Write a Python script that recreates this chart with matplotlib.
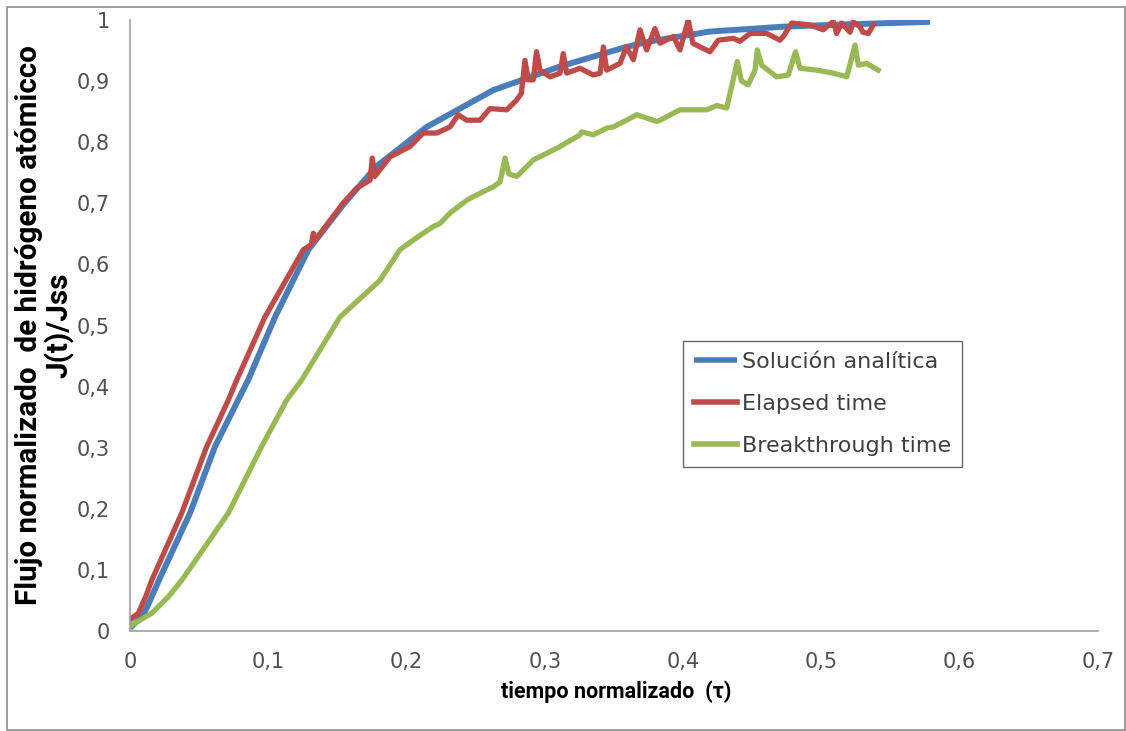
import matplotlib
matplotlib.use("Agg")
import matplotlib.pyplot as plt
from matplotlib.patches import Rectangle

# Solución analítica
tau_a = [0.0, 0.0096, 0.0145, 0.0205, 0.0434, 0.0615, 0.0795, 0.0855, 0.1049, 0.129,
         0.155, 0.178, 0.2146, 0.2625, 0.311, 0.359, 0.376, 0.419, 0.472, 0.52, 0.5785]
j_a = [0.005, 0.026, 0.05, 0.081, 0.193, 0.302, 0.384, 0.411, 0.514, 0.624,
       0.700, 0.760, 0.825, 0.885, 0.924, 0.956, 0.965, 0.981, 0.989, 0.993, 0.997]

# Elapsed time
tau_e = [0.0, 0.006, 0.0113, 0.0157, 0.0374, 0.0555, 0.0711, 0.0772, 0.0976, 0.1253,
         0.131, 0.1326, 0.134, 0.154, 0.164, 0.1736, 0.1752, 0.177, 0.188, 0.2025,
         0.212, 0.2218, 0.2314, 0.2374, 0.2434, 0.2531, 0.2603, 0.2724, 0.2796, 0.283,
         0.2856, 0.288, 0.2916, 0.294, 0.2965, 0.3037, 0.311, 0.3133, 0.3158, 0.3254,
         0.335, 0.34, 0.3423, 0.3447, 0.3543, 0.359, 0.364, 0.3688, 0.3736, 0.3796,
         0.3833, 0.393, 0.3977, 0.4037, 0.407, 0.4122, 0.4194, 0.4254, 0.4363, 0.441,
         0.4483, 0.4556, 0.4604, 0.47, 0.4724, 0.4785, 0.4917, 0.5013, 0.5086, 0.511,
         0.5146, 0.5207, 0.523, 0.5279, 0.53, 0.5339, 0.5375]
j_e = [0.019, 0.029, 0.056, 0.083, 0.193, 0.302, 0.378, 0.411, 0.514, 0.624,
       0.632, 0.651, 0.640, 0.700, 0.725, 0.738, 0.774, 0.744, 0.776, 0.793,
       0.815, 0.815, 0.825, 0.845, 0.836, 0.836, 0.855, 0.853, 0.869, 0.880,
       0.934, 0.902, 0.902, 0.948, 0.918, 0.907, 0.913, 0.945, 0.913, 0.921,
       0.910, 0.913, 0.956, 0.918, 0.929, 0.956, 0.935, 0.984, 0.951, 0.986,
       0.962, 0.973, 0.951, 1.000, 0.962, 0.956, 0.948, 0.967, 0.970, 0.965,
       0.978, 0.978, 0.978, 0.967, 0.973, 0.995, 0.992, 0.984, 0.998, 0.978,
       0.995, 0.980, 0.997, 0.989, 0.980, 0.978, 0.992]

# Breakthrough time
tau_b = [0.0, 0.0157, 0.0277, 0.0374, 0.0711, 0.0952, 0.1133, 0.1242, 0.1519, 0.1808,
         0.1952, 0.2049, 0.2193, 0.2242, 0.2314, 0.2435, 0.2483, 0.2627, 0.2676, 0.2712,
         0.274, 0.2796, 0.2869, 0.2916, 0.2989, 0.3085, 0.311, 0.3254, 0.3266, 0.335,
         0.3447, 0.3495, 0.359, 0.3616, 0.3664, 0.3809, 0.3833, 0.3977, 0.4122, 0.417,
         0.4243, 0.4315, 0.4339, 0.4392, 0.4422, 0.4471, 0.452, 0.4536, 0.4568, 0.4676,
         0.476, 0.4813, 0.4845, 0.4966, 0.5086, 0.5183, 0.5243, 0.5267, 0.5327, 0.541]
j_b = [0.008, 0.029, 0.056, 0.083, 0.193, 0.302, 0.378, 0.411, 0.514, 0.574,
       0.624, 0.640, 0.662, 0.667, 0.684, 0.705, 0.711, 0.727, 0.735, 0.774,
       0.748, 0.744, 0.760, 0.771, 0.779, 0.790, 0.793, 0.812, 0.817, 0.812,
       0.823, 0.825, 0.836, 0.839, 0.845, 0.834, 0.836, 0.853, 0.853, 0.853,
       0.860, 0.856, 0.880, 0.932, 0.900, 0.894, 0.918, 0.951, 0.926, 0.907,
       0.910, 0.948, 0.921, 0.918, 0.913, 0.907, 0.959, 0.926, 0.929, 0.918]

xticks = [0, 0.1, 0.2, 0.3, 0.4, 0.5, 0.6, 0.7]
xlabels = ['0', '0,1', '0,2', '0,3', '0,4', '0,5', '0,6', '0,7']
yticks = [0, 0.1, 0.2, 0.3, 0.4, 0.5, 0.6, 0.7, 0.8, 0.9, 1]
ylabels = ['0', '0,1', '0,2', '0,3', '0,4', '0,5', '0,6', '0,7', '0,8', '0,9', '1']

fig = plt.figure(figsize=(11.26, 7.31), dpi=100)
ax = fig.add_axes([130 / 1126, 100 / 731, 968 / 1126, 611 / 731])

ax.plot(tau_a, j_a, color='#4A7EBB', lw=4.3, label='Solución analítica', solid_capstyle='butt')
ax.plot(tau_e, j_e, color='#BE4B48', lw=3.8, label='Elapsed time')
ax.plot(tau_b, j_b, color='#98B954', lw=3.8, label='Breakthrough time')

ax.set_xlim(0, 0.7)
ax.set_ylim(0, 1)
ax.set_xticks(xticks, xlabels)
ax.set_yticks(yticks, ylabels)
ax.tick_params(length=0, labelsize=15, labelcolor='#505050')
ax.tick_params(axis='x', pad=15)
ax.tick_params(axis='y', pad=14.5)
for lab in ax.get_xticklabels() + ax.get_yticklabels():
    lab.set_family('DejaVu Sans')

for s in ['top', 'right']:
    ax.spines[s].set_visible(False)
for s in ['left', 'bottom']:
    ax.spines[s].set_color('#A0A0A0')
    ax.spines[s].set_linewidth(1.2)

fig.text(616 / 1126, 1 - 692 / 731, 'tiempo normalizado  (τ)', ha='center', va='center',
         fontsize=15.5, fontweight='bold', family='Roboto', color='black')
fig.text(45 / 1126, 1 - 325 / 731, 'Flujo normalizado  de hidrógeno atómicco\nJ(t)/Jss',
         ha='center', va='center', rotation=90, multialignment='center',
         fontsize=21.3, fontweight='bold', family='Roboto', linespacing=1.05, color='black')

leg = ax.legend(loc='lower left', bbox_to_anchor=(0.571, 0.268),
                frameon=True, fancybox=False, handlelength=1.95, handletextpad=0.22,
                labelspacing=1.0, borderpad=0.5, borderaxespad=0,
                prop={'family': 'DejaVu Sans', 'size': 16})
leg.get_frame().set_edgecolor('#404040')
leg.get_frame().set_linewidth(1.0)
for t in leg.get_texts():
    t.set_color('#404040')
for h in leg.get_lines():
    h.set_linewidth(4)

fig.patches.append(Rectangle((7 / 1126, 1 / 731), 1118 / 1126, 723 / 731, transform=fig.transFigure,
                             fill=False, edgecolor='#8C8C8C', lw=1.2))

fig.savefig('out.png', dpi=100)
